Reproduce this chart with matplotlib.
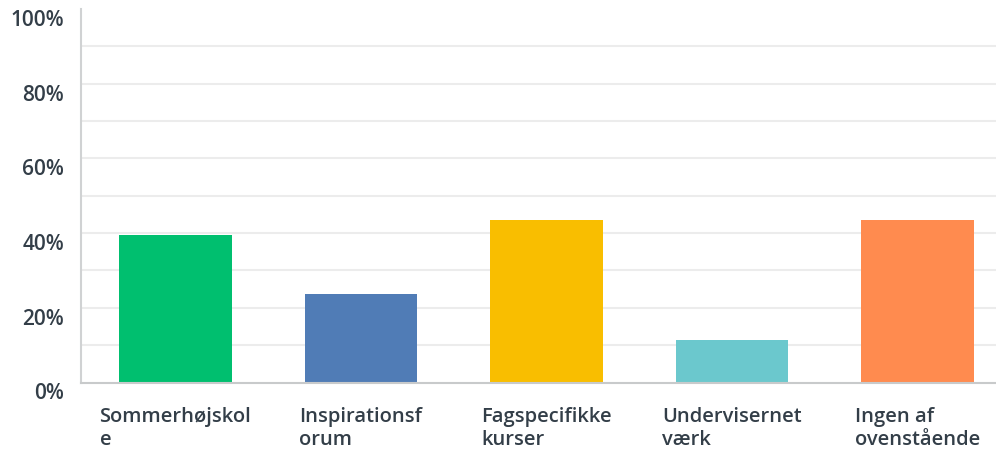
import matplotlib.pyplot as plt
import matplotlib.transforms as mtransforms
import numpy as np

categories = ['Sommerhøjskol\ne', 'Inspirationsf\norum', 'Fagspecifikke\nkurser',
              'Undervisernet\nværk', 'Ingen af\novenstående']
values = [39.6, 23.6, 43.4, 11.5, 43.4]
colors = ['#00bf6f', '#507cb6', '#f9be00', '#6bc8cd', '#ff8b4f']
yticks = [0, 20, 40, 60, 80, 100]
ytick_labels = ['0%', '20%', '40%', '60%', '80%', '100%']

text_color = '#333e48'
plt.rcParams['font.family'] = ['Open Sans', 'DejaVu Sans']

fig = plt.figure(figsize=(9.96, 4.52), dpi=100)
ax = fig.add_axes([81 / 996, (452 - 383.5) / 452, 1 - 81 / 996, (383.5 - 10) / 452])

x = np.arange(len(categories))
# horizontal grid every 10%, no line at the top
for g in range(10, 100, 10):
    ax.axhline(g, color='#ececec', lw=1.5, zorder=0)
ax.bar(x, values, width=0.607, color=colors, zorder=2)

ax.set_xlim(-0.509, 4.424)
ax.set_ylim(0, 100)

for s in ['top', 'right']:
    ax.spines[s].set_visible(False)
ax.spines['left'].set_color('#d0d2d3')
ax.spines['left'].set_linewidth(1.5)
ax.spines['bottom'].set_color('#c8cacb')
ax.spines['bottom'].set_linewidth(1.5)

ax.set_yticks(yticks)
ax.set_yticklabels(ytick_labels, fontsize=15, fontweight='semibold', color=text_color)
ax.tick_params(axis='y', length=0, pad=12)
offset = mtransforms.ScaledTranslation(0, -8 / 100, fig.dpi_scale_trans)
for lab in ax.get_yticklabels():
    lab.set_transform(lab.get_transform() + offset)

ax.set_xticks([])
for xi, lab in zip(x, categories):
    ax.text(xi, -6.3, lab, ha='center', va='top', multialignment='left',
            fontsize=14.5, fontweight='semibold', color=text_color,
            linespacing=1.2, clip_on=False)

fig.savefig('out.png', dpi=100)
